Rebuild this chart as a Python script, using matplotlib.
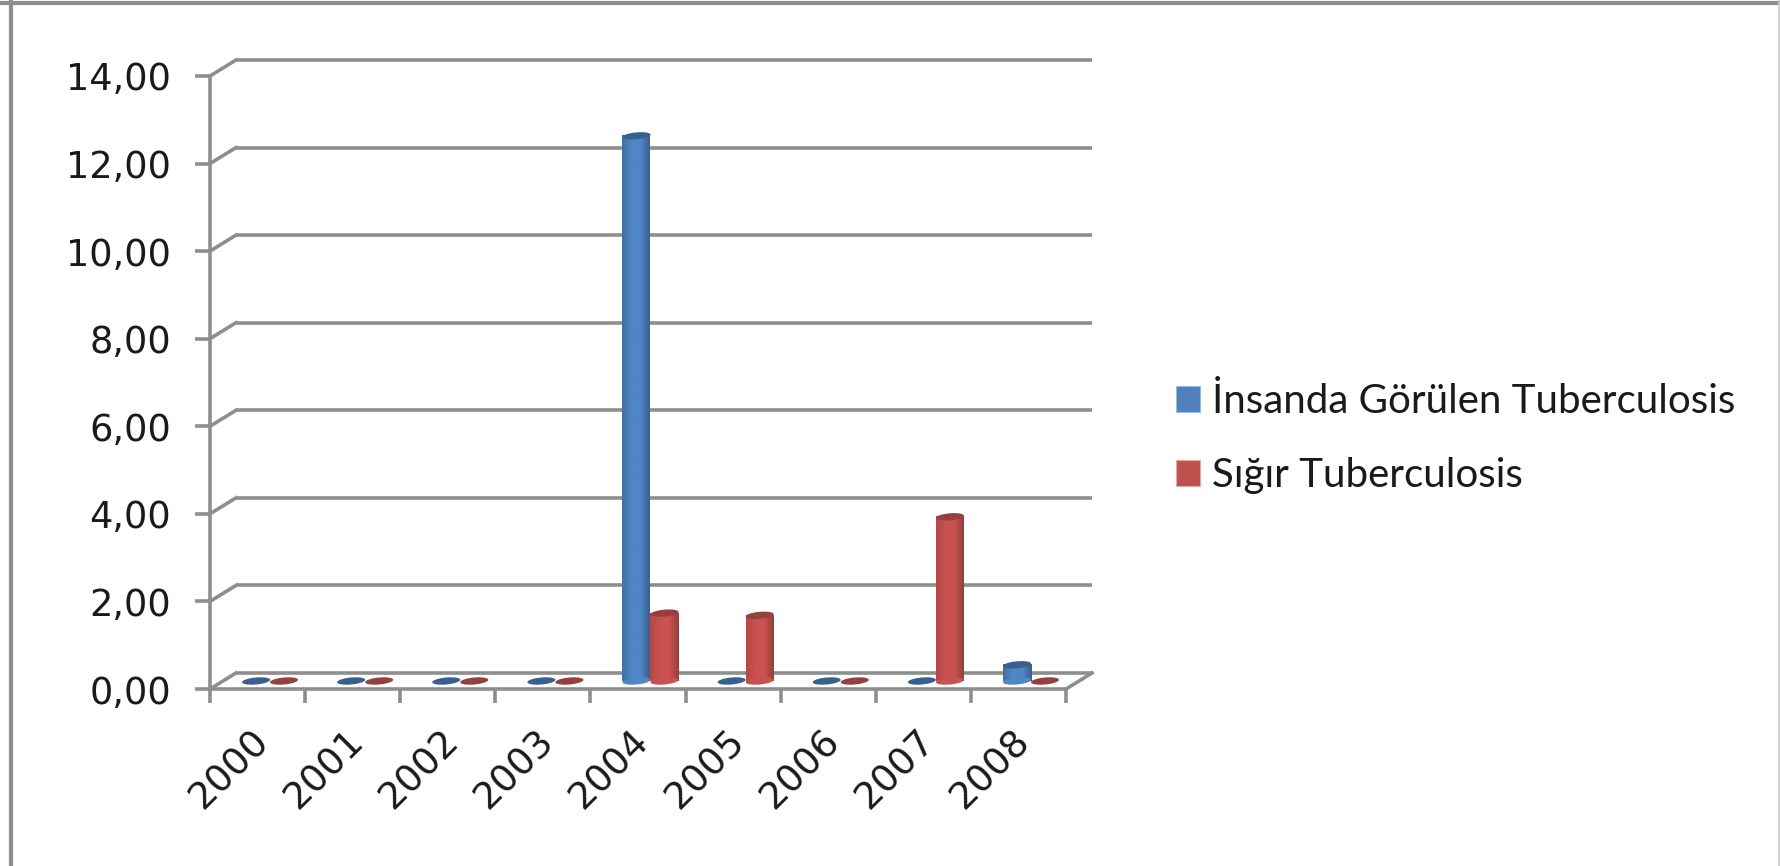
import numpy as np
import matplotlib
matplotlib.use('Agg')
import matplotlib.pyplot as plt
from matplotlib.colors import LinearSegmentedColormap
from matplotlib.patches import Patch, Polygon

years = ['2000', '2001', '2002', '2003', '2004', '2005', '2006', '2007', '2008']
insan = [0, 0, 0, 0, 12.45, 0, 0, 0, 0.37]
sigir = [0, 0, 0, 0, 1.55, 1.5, 0, 3.75, 0]
yticks = [0, 2, 4, 6, 8, 10, 12, 14]
names = ['İnsanda Görülen Tuberculosis', 'Sığır Tuberculosis']

W, H = 1780, 866
GRAY = '#8e8e8e'
TEXT = '#1a1a1a'
LW = 2.6
plt.rcParams['font.family'] = ['DejaVu Sans']

fig = plt.figure(figsize=(W / 100, H / 100), dpi=100)

# outer chart frame: heavy left and top, faint right
fig.add_artist(plt.Line2D([10.5 / W, 10.5 / W], [0, 1], color=GRAY, lw=3))
fig.add_artist(plt.Line2D([0, 1], [1 - 2.5 / H, 1 - 2.5 / H], color=GRAY, lw=3))
fig.add_artist(plt.Line2D([1 - 1 / W, 1 - 1 / W], [0, 1], color='#cccccc', lw=1.2))

# front plane of the 3d box
x0, x1, y0, y1 = 210, 1066, 689, 76
ax = fig.add_axes([x0 / W, 1 - y0 / H, (x1 - x0) / W, (y0 - y1) / H])
ax.patch.set_visible(False)
for s in ['top', 'right']:
    ax.spines[s].set_visible(False)
for s in ['left', 'bottom']:
    ax.spines[s].set_color(GRAY)
    ax.spines[s].set_linewidth(LW)

px = 9 / (x1 - x0)     # data units per pixel, x
py = 14 / (y0 - y1)    # data units per pixel, y
depth_x = 26 * px
depth_y = 16 * py

# gridlines on the back wall plus the short side wall segments
for v in yticks:
    ax.plot([depth_x, 9 + depth_x], [v + depth_y] * 2, color=GRAY, lw=LW,
            clip_on=False, zorder=1, solid_capstyle='butt')
    ax.plot([0, depth_x], [v, v + depth_y], color=GRAY, lw=LW, clip_on=False, zorder=1)
ax.plot([9, 9 + depth_x], [0, depth_y], color=GRAY, lw=LW, clip_on=False, zorder=1)


def ellipse(cx, cy, half_w, color, z):
    t = np.linspace(0, 2 * np.pi, 60)
    xs = cx + half_w * np.cos(t)
    ys = cy + 3.5 * py * np.sin(t) + 1.2 * py * np.cos(t)
    ax.add_patch(Polygon(np.column_stack([xs, ys]), closed=True, fc=color, ec='none',
                         zorder=z, clip_on=False))


def cylinder(cx, value, base, mid, dark, z):
    half_w = 14 * px
    floor = 8 * py
    if value > 0:
        cmap = LinearSegmentedColormap.from_list('c', [base, mid, mid, dark])
        ax.imshow(np.linspace(0, 1, 64).reshape(1, -1), cmap=cmap, aspect='auto',
                  extent=[cx - half_w, cx + half_w, floor, value + floor],
                  zorder=z, clip_on=False)
        ellipse(cx, floor, half_w, mid, z)
    ellipse(cx, value + floor, half_w, dark, z + 0.5)


bar_w = 28 * px
shift = -1.5 * px
for i in range(len(years)):
    cylinder(i + 0.5 + shift, insan[i], '#41709f', '#4f86c6', '#37608f', 3)
    cylinder(i + 0.5 + shift + bar_w, sigir[i], '#b04a48', '#c9524f', '#94403e', 4)

ax.set_xlim(0, 9)
ax.set_ylim(0, 14)

ax.set_yticks(yticks)
ax.set_yticklabels([('%.2f' % v).replace('.', ',') for v in yticks])
ax.tick_params(axis='y', length=11, width=LW, color=GRAY, labelsize=26.5, pad=17,
               labelcolor=TEXT)

ax.set_xticks(np.arange(0, 10))
ax.set_xticklabels([])
ax.tick_params(axis='x', which='major', length=10, width=LW, color=GRAY)
ax.set_xticks(np.arange(9) + 0.5 - 7 * px, minor=True)
ax.set_xticklabels(years, minor=True, rotation=45, ha='right', va='top', rotation_mode='anchor',
                   fontsize=27, color=TEXT)
ax.tick_params(axis='x', which='minor', length=0, pad=25)

handles = [Patch(fc='#4f81bd', ec='#9db9dc', lw=0.8), Patch(fc='#c0504d', ec='#e2a9a7', lw=0.8)]
fig.legend(handles, names, loc='upper left', bbox_to_anchor=(1176 / W, 1 - 383 / H), frameon=False,
           prop={'family': 'Lato', 'size': 29}, handlelength=0.6, handleheight=0.6, handletextpad=0.3,
           labelspacing=0.92, borderpad=0, labelcolor=TEXT, borderaxespad=0)

fig.savefig('out.png', dpi=100)
